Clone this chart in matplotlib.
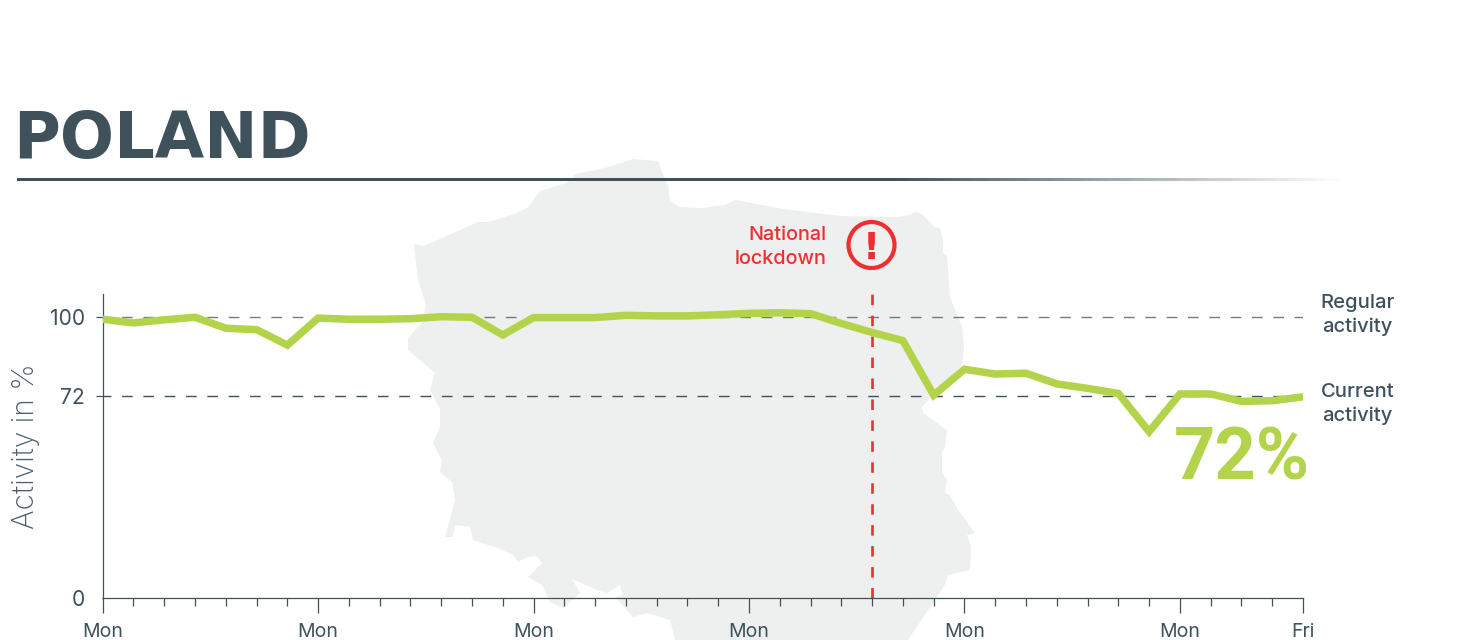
import numpy as np
import matplotlib
matplotlib.use("Agg")
import matplotlib.pyplot as plt
from matplotlib.colors import to_rgb
from matplotlib.patches import Circle, Polygon

# ============================================================
# DATA
# ============================================================

days = np.arange(40)

activity = [
    99.2, 97.9, 99.0, 99.9, 96.0, 95.5, 90.0, 99.6, 99.2, 99.2,
    99.4, 100.1, 99.9, 93.6, 99.8, 99.8, 99.8, 100.6, 100.4, 100.4,
    100.8, 101.3, 101.5, 101.2, 97.7, 94.5, 91.6, 72.2, 81.4, 79.7,
    80.0, 76.2, 74.6, 72.8, 59.2, 72.6, 72.6, 70.0, 70.2, 71.6,
]

major_days = [0, 7, 14, 21, 28, 35, 39]
major_labels = ["Mon", "Mon", "Mon", "Mon", "Mon", "Mon", "Fri"]
minor_days = [d for d in days if d not in major_days]

y_ticks = [0, 72, 100]
reference_levels = [100, 72]
lockdown_day = 25

# outline of the country behind the chart, in picture pixels
map_x = [
    414, 424, 478, 489, 517, 528, 540, 566, 576, 609, 633, 658, 662, 668,
    670, 679, 702, 725, 735, 783, 840, 897, 909, 915, 922, 934, 940, 943,
    943, 947, 950, 962, 964, 962, 933, 922, 923, 947, 945, 942, 942, 947,
    945, 950, 958, 975, 967, 971, 970, 948, 945, 908, 675, 670, 647, 633,
    625, 615, 623, 620, 607, 597, 572, 580, 563, 550, 542, 528, 542, 537,
    528, 518, 513, 500, 473, 470, 455, 453, 445, 455, 452, 440, 442, 433,
    440, 440, 430, 435, 408, 408, 422, 426, 418, 416,
]
map_y = [
    244, 246, 222, 222, 213, 207, 191, 183, 174, 167, 159, 161, 172, 185,
    200, 207, 208, 205, 200, 209, 216, 217, 215, 212, 214, 227, 228, 240,
    253, 256, 297, 327, 347, 365, 395, 407, 413, 430, 447, 453, 472, 480,
    493, 495, 510, 533, 535, 547, 570, 575, 585, 640, 640, 620, 613, 617,
    608, 597, 595, 585, 593, 590, 579, 593, 608, 602, 585, 577, 563, 556,
    557, 562, 555, 549, 540, 527, 525, 537, 537, 500, 482, 472, 460, 443,
    427, 408, 390, 373, 350, 338, 323, 305, 280, 262,
]

# ============================================================
# STYLE
# ============================================================

W = 1466
H = 640

DARK = "#3f525c"
GREEN = "#b3d44a"
RED = "#ee2e30"
MAP = "#eef0f0"

plt.rcParams["font.family"] = ["Inter", "DejaVu Sans"]


def fx(x):
    return x / W


def fy(y):
    return 1 - y / H


fig = plt.figure(figsize=(W / 100, H / 100), dpi=100, facecolor="white")

# ============================================================
# BACKGROUND: MAP AND TITLE RULE
# ============================================================

bg = fig.add_axes([0, 0, 1, 1], zorder=0)
bg.axis("off")

bg.add_patch(Polygon(np.column_stack([map_x, map_y]), closed=True, color=MAP, lw=0, zorder=1))

rule = np.ones((1, 400, 4))
rule[..., :3] = to_rgb(DARK)
rule[..., 3] = np.clip((1345 - np.linspace(17, 1345, 400)) / 450, 0, 1)
bg.imshow(rule, extent=(17, 1345, 181.2, 178.8), aspect="auto",
          interpolation="bilinear", zorder=2)

bg.set_xlim(0, W)
bg.set_ylim(H, 0)

# ============================================================
# CHART
# ============================================================

ax = fig.add_axes(
    [fx(102.7), fy(598), 1200.3 / W, 304 / H],
    zorder=1,
    facecolor="none"
)

ax.set_xlim(0, 39)
ax.set_ylim(0, 304 / 2.81)

for level, alpha in zip(reference_levels, [0.75, 1.0]):
    ax.axhline(
        level,
        color=DARK,
        alpha=alpha,
        linewidth=1.0,
        linestyle=(2.0, (7.7, 7.65)),
        zorder=1
    )

ax.axvline(
    lockdown_day,
    color=RED,
    linewidth=1.9,
    dashes=(3.97, 3.97),
    zorder=2
)

ax.plot(
    days,
    activity,
    color=GREEN,
    linewidth=5.4,
    solid_joinstyle="miter",
    solid_capstyle="butt",
    zorder=3
)

for side in ["top", "right"]:
    ax.spines[side].set_visible(False)
for side in ["left", "bottom"]:
    ax.spines[side].set_color(DARK)
    ax.spines[side].set_linewidth(0.9)

ax.set_xticks(major_days, major_labels)
ax.set_xticks(minor_days, minor=True)
ax.tick_params(axis="x", which="major", length=10.5, width=0.9, color=DARK,
               labelcolor=DARK, labelsize=14, pad=7.5)
ax.tick_params(axis="x", which="minor", length=5.8, width=0.9, color=DARK)

ax.set_yticks(y_ticks)
ax.tick_params(axis="y", length=4.8, width=0.9, color=DARK,
               labelcolor=DARK, labelsize=15.2, pad=8)
ax.yaxis.get_major_ticks()[0].tick1line.set_markersize(1)

ax.set_ylabel("Activity in %", fontsize=21.5, fontweight="light", color="#4c5f69")
ax.yaxis.set_label_coords(-0.0525, 0.5)

# ============================================================
# TEXT
# ============================================================

fig.text(fx(13), fy(158), "POLAND", family="DejaVu Sans", fontweight="bold",
         fontsize=46, color=DARK, ha="left", va="baseline")

fig.text(fx(827), fy(240), "National", fontsize=14.3, fontweight="medium", color=RED,
         ha="right", va="baseline")
fig.text(fx(827), fy(264), "lockdown", fontsize=14.3, fontweight="medium", color=RED,
         ha="right", va="baseline")

bg.add_patch(Circle((871.5, 245), 23, fill=False, edgecolor=RED, linewidth=3.0, zorder=3))
fig.text(fx(871.5), fy(259), "!", family="DejaVu Sans", fontweight="bold",
         fontsize=27, color=RED, ha="center", va="baseline")

fig.text(fx(1357.5), fy(308), "Regular", fontsize=14.5, fontweight="medium", color=DARK,
         ha="center", va="baseline")
fig.text(fx(1357.5), fy(332), "activity", fontsize=14.5, fontweight="medium", color=DARK,
         ha="center", va="baseline")
fig.text(fx(1357.5), fy(397), "Current", fontsize=14.5, fontweight="medium", color=DARK,
         ha="center", va="baseline")
fig.text(fx(1357.5), fy(421), "activity", fontsize=14.5, fontweight="medium", color=DARK,
         ha="center", va="baseline")

fig.text(fx(1310), fy(479), "72%", family="Roboto", fontsize=52, fontweight="bold",
         color=GREEN, ha="right", va="baseline")

fig.savefig("out.png", dpi=100)
